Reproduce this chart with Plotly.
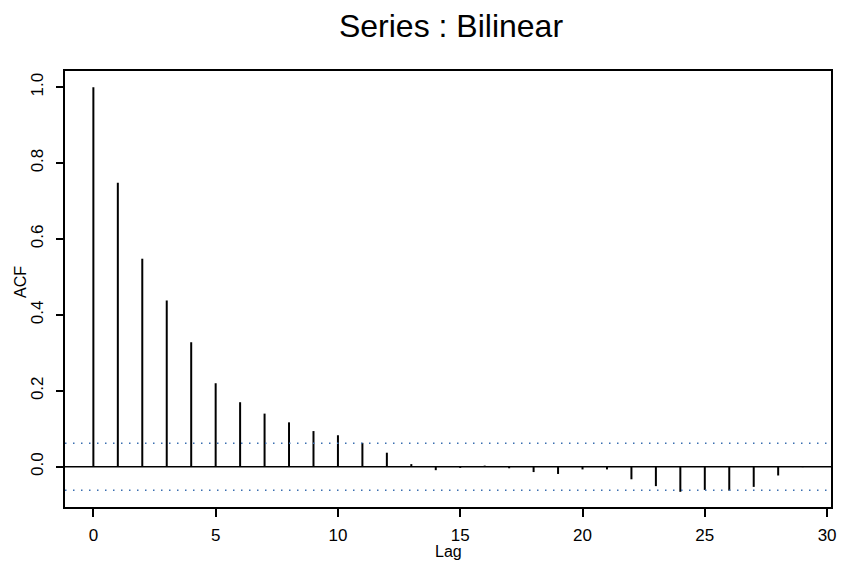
import plotly.graph_objects as go

lags = list(range(0, 30))
acf = [1.0, 0.748, 0.548, 0.438, 0.328, 0.220, 0.170, 0.140, 0.117, 0.094,
       0.083, 0.063, 0.037, 0.007, -0.009, -0.003, 0.003, -0.004, -0.014, -0.019,
       -0.007, -0.007, -0.033, -0.051, -0.066, -0.061, -0.063, -0.053, -0.023, -0.001]
ci = 0.062
xticks = [0, 5, 10, 15, 20, 25, 30]
yticks = [0.0, 0.2, 0.4, 0.6, 0.8, 1.0]

FONT = "Liberation Sans, Arial, sans-serif"
W, H = 841, 565
L, R, T, B = 65, 10, 71, 58
PW, PH = W - L - R, H - T - B

xs, ys = [], []
for l, v in zip(lags, acf):
    xs += [l, l, None]
    ys += [0, v, None]

fig = go.Figure()
fig.add_trace(go.Scatter(x=xs, y=ys, mode="lines",
                         line=dict(color="black", width=2), hoverinfo="skip",
                         showlegend=False))

fig.add_hline(y=0, line=dict(color="black", width=1.5))
for c in (ci, -ci):
    fig.add_hline(y=c, line=dict(color="#3a6eb0", width=1.5, dash="1.5px,6.5px"))

fig.update_layout(
    width=W, height=H,
    margin=dict(l=L, r=R, t=T, b=B, autoexpand=False),
    paper_bgcolor="white", plot_bgcolor="white",
    font=dict(family=FONT, color="black", size=16),
    title=dict(text="Series : Bilinear", x=451 / W, xref="container", xanchor="center",
               y=1 - 26 / H, yanchor="middle",
               font=dict(family=FONT, size=32, color="black")),
    showlegend=False,
)
fig.add_annotation(text="Lag", xref="paper", yref="paper",
                   x=(448 - L) / PW, y=-(551 - (H - B)) / PH,
                   xanchor="center", yanchor="middle", showarrow=False,
                   font=dict(size=16))
fig.add_annotation(text="ACF", xref="paper", yref="paper", textangle=-90,
                   x=(20 - L) / PW, y=((H - B) - 282) / PH,
                   xanchor="center", yanchor="middle", showarrow=False,
                   font=dict(size=16))
fig.update_xaxes(
    range=[-1.16, 30.16], tickvals=xticks, ticktext=[str(t) for t in xticks],
    automargin=False,
    showgrid=False, zeroline=False, showline=True, linecolor="black", linewidth=1.5,
    mirror=True, ticks="outside", ticklen=8, tickwidth=1.5, tickcolor="black",
    ticklabelstandoff=4, tickfont=dict(size=17),
)
fig.update_yaxes(
    range=[-0.106, 1.0425], tickvals=yticks, ticktext=[f"{t:.1f}" for t in yticks],
    automargin=False,
    tickangle=-90, tickfont=dict(size=17),
    showgrid=False, zeroline=False, showline=True, linecolor="black", linewidth=1.5,
    mirror=True, ticks="outside", ticklen=7, tickwidth=1.5, tickcolor="black",
    ticklabelstandoff=6,
)

fig.write_html("out.html")
